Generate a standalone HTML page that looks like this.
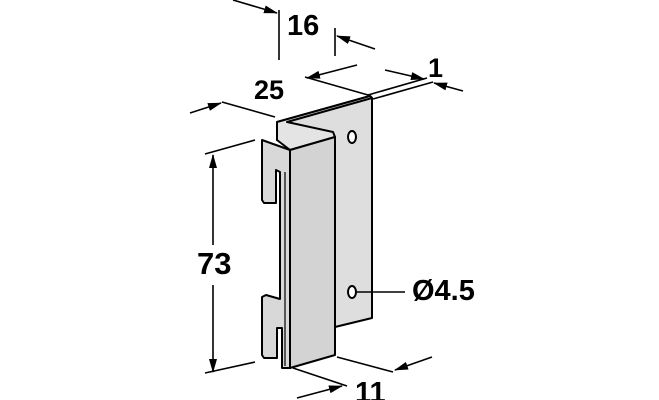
<!DOCTYPE html>
<html><head><style>html,body{margin:0;padding:0;background:#fff;width:659px;height:400px;overflow:hidden}</style></head>
<body>
<svg width="659" height="400" viewBox="0 0 659 400" xmlns="http://www.w3.org/2000/svg">
<defs>
<marker id="a" markerWidth="14" markerHeight="8" refX="13" refY="4" orient="auto" markerUnits="userSpaceOnUse"><path d="M0,0 L14,4 L0,8 Z" fill="#000"/></marker>
</defs>
<g stroke="#000" stroke-width="2" stroke-linejoin="round" fill="#dcdcdc">
<!-- back plate -->
<polygon points="277,122 370,96 372,98 372,318 335,327 335,140 277,140" fill="#dedede"/>
<!-- U top channel -->
<polygon points="277,122 370,96 372,98 287,122 333,132 335,137 290,150 277,140" fill="#e4e4e4"/>
<!-- left flange with slots -->
<polygon points="262,140 290,150 290,368 282,368 282,328 277,328 277,358 264,358 262,355 262,297 266,295 280,299 280,172 276,170 276,203 264,203 262,200" fill="#d8d8d8"/>
<!-- front face -->
<polygon points="290,150 335,137 335,355 290,368" fill="#d3d3d3"/>
<line x1="285" y1="172" x2="285" y2="366" stroke-width="1.2"/>
<!-- holes -->
<ellipse cx="352" cy="137" rx="4" ry="6" fill="#fff"/>
<ellipse cx="352" cy="292" rx="4" ry="6" fill="#fff"/>
</g>
<g stroke="#000" stroke-width="1.6" fill="none">
<!-- 73 -->
<line x1="205" y1="154" x2="255" y2="140"/>
<line x1="205" y1="373" x2="255" y2="362"/>
<line x1="213" y1="245" x2="213" y2="155" marker-end="url(#a)"/>
<line x1="213" y1="285" x2="213" y2="372" marker-end="url(#a)"/>
<!-- 25 -->
<line x1="222" y1="102" x2="275" y2="117"/>
<line x1="305" y1="77" x2="368" y2="95"/>
<line x1="190" y1="113" x2="221" y2="103" marker-end="url(#a)"/>
<line x1="357" y1="65" x2="307" y2="78" marker-end="url(#a)"/>
<!-- 16 -->
<line x1="279" y1="10" x2="279" y2="60"/>
<line x1="335" y1="28" x2="335" y2="56"/>
<line x1="233" y1="0" x2="277" y2="13" marker-end="url(#a)"/>
<line x1="375" y1="49" x2="337" y2="36" marker-end="url(#a)"/>
<!-- 1 -->
<line x1="368" y1="95" x2="427" y2="78"/>
<line x1="373" y1="99" x2="433" y2="82"/>
<line x1="385" y1="70" x2="424" y2="79" marker-end="url(#a)"/>
<line x1="463" y1="91" x2="434" y2="83" marker-end="url(#a)"/>
<!-- 11 -->
<line x1="337" y1="357" x2="393" y2="372"/>
<line x1="293" y1="368" x2="347" y2="386"/>
<line x1="432" y1="357" x2="395" y2="370" marker-end="url(#a)"/>
<line x1="297" y1="398" x2="342" y2="386" marker-end="url(#a)"/>
<!-- leader -->
<line x1="356" y1="292" x2="405" y2="292"/>
</g>
<g font-family="Liberation Sans, sans-serif" font-weight="bold" fill="#000">
<text x="197" y="274" font-size="31">73</text>
<text x="254" y="99" font-size="27">25</text>
<text x="287" y="35" font-size="29">16</text>
<text x="428" y="77" font-size="27">1</text>
<text x="355" y="402" font-size="29">11</text>
<text x="412" y="300" font-size="29">Ø4.5</text>
</g>
</svg>
</body></html>
